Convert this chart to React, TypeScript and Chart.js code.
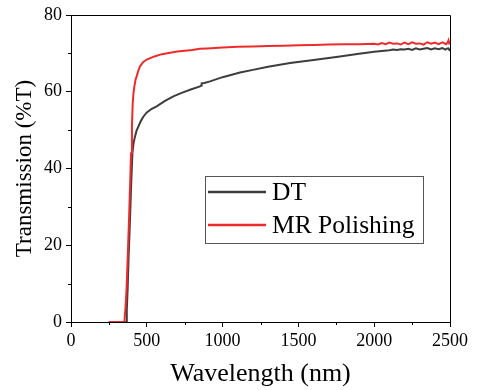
import React, { useEffect, useRef } from "react";
import { Chart, registerables } from "chart.js";

Chart.register(...registerables);

const xTicksMajor = [0, 500, 1000, 1500, 2000, 2500];
const xTicksMinor = [250, 750, 1250, 1750, 2250];
const yTicksMajor = [0, 20, 40, 60, 80];
const yTicksMinor = [10, 30, 50, 70];

const seriesNames = ["DT", "MR Polishing"];

const wavelengthDT = [
  250, 300, 340, 363, 368, 374, 380, 389, 397, 405, 412, 422, 432, 444, 460, 477, 500, 530, 565, 620, 675, 730, 790, 851, 858,
  862, 880, 917, 1000, 1115, 1200, 1300, 1445, 1600, 1774, 1900, 2000, 2050, 2100, 2125, 2150, 2175, 2200, 2225, 2250, 2275,
  2300, 2325, 2350, 2375, 2400, 2425, 2450, 2470, 2478, 2490, 2500,
];
const dtValues = [
  0, 0, 0, 0, 3, 9, 17, 26.5, 36, 44, 46.5, 48.3, 49.8, 50.9, 52.3, 53.5, 54.6, 55.5, 56.2, 57.6, 58.8, 59.7, 60.6, 61.4, 61.6,
  62.2, 62.3, 62.7, 63.8, 65.0, 65.7, 66.5, 67.5, 68.3, 69.2, 69.9, 70.4, 70.6, 70.8, 71.0, 70.9, 71.1, 71.0, 71.2, 70.9, 71.3,
  71.0, 71.2, 71.4, 71.0, 71.3, 71.1, 71.4, 71.0, 71.2, 71.3, 70.6,
];

const wavelengthMR = [
  250, 300, 340, 352, 360, 367, 375, 383, 390, 396, 402, 407, 412, 418, 425, 433, 445, 455, 475, 500, 550, 600, 700, 800, 850,
  900, 1000, 1100, 1200, 1300, 1400, 1500, 1600, 1700, 1800, 1900, 2000, 2025, 2050, 2075, 2100, 2125, 2150, 2175, 2200, 2225,
  2250, 2275, 2300, 2325, 2350, 2375, 2400, 2425, 2450, 2475, 2485, 2490, 2495, 2500,
];
const mrValues = [
  0, 0, 0, 0, 4, 9, 18, 27, 36, 44, 51, 57, 59.5, 61.4, 63, 64, 65.6, 66.6, 67.7, 68.4, 69.2, 69.8, 70.5, 70.9, 71.2, 71.3,
  71.5, 71.7, 71.8, 71.9, 72.0, 72.1, 72.2, 72.3, 72.4, 72.4, 72.5, 72.3, 72.7, 72.4, 72.8, 72.5, 72.6, 72.3, 72.8, 72.4, 72.9,
  72.5, 72.6, 72.3, 72.9, 72.5, 72.8, 72.4, 72.9, 72.4, 72.9, 73.4, 72.6, 72.8,
];

const DT_COLOR = "#3d3d3d";
const MR_COLOR = "#ee2b2b";
const FONT = "'Liberation Serif', 'Times New Roman', serif";

const framePlugin = {
  id: "frameAndMinor",
  afterDraw(chart: any) {
    const { ctx, chartArea, scales } = chart;
    const { left, right, top, bottom } = chartArea;
    ctx.save();
    ctx.strokeStyle = "#000";
    ctx.lineWidth = 1;
    ctx.beginPath();
    ctx.moveTo(left, top + 0.5);
    ctx.lineTo(right + 0.5, top + 0.5);
    ctx.lineTo(right + 0.5, bottom);
    ctx.stroke();
    ctx.beginPath();
    for (const v of xTicksMinor) {
      const px = Math.round(scales.x.getPixelForValue(v)) + 0.5;
      ctx.moveTo(px, bottom);
      ctx.lineTo(px, bottom + 3);
    }
    for (const v of yTicksMinor) {
      const py = Math.round(scales.y.getPixelForValue(v)) + 0.5;
      ctx.moveTo(left, py);
      ctx.lineTo(left - 3, py);
    }
    ctx.stroke();

    // legend
    const bx = left + 134;
    const by = top + 161;
    const bw = 218;
    const bh = 67;
    ctx.fillStyle = "#fff";
    ctx.fillRect(bx, by, bw, bh);
    ctx.strokeStyle = "#555";
    ctx.strokeRect(bx + 0.5, by + 0.5, bw, bh);
    const colors = [DT_COLOR, MR_COLOR];
    ctx.font = `25.5px ${FONT}`;
    ctx.textBaseline = "middle";
    ctx.textAlign = "left";
    seriesNames.forEach((name, i) => {
      const ly = by + 16 + i * 33;
      ctx.strokeStyle = colors[i];
      ctx.lineWidth = 2.5;
      ctx.beginPath();
      ctx.moveTo(bx + 3, ly);
      ctx.lineTo(bx + 61, ly);
      ctx.stroke();
      ctx.fillStyle = "#000";
      ctx.fillText(name, bx + 67, ly + 1);
    });
    ctx.restore();
  },
};

export default function App() {
  const ref = useRef<HTMLCanvasElement | null>(null);

  useEffect(() => {
    if (!ref.current) return;
    const chart = new Chart(ref.current, {
      type: "line",
      data: {
        datasets: [
          {
            label: seriesNames[0],
            data: wavelengthDT.map((x, i) => ({ x, y: dtValues[i] })),
            borderColor: DT_COLOR,
            borderWidth: 2,
            pointRadius: 0,
            tension: 0,
            order: 1,
          },
          {
            label: seriesNames[1],
            data: wavelengthMR.map((x, i) => ({ x, y: mrValues[i] })),
            borderColor: MR_COLOR,
            borderWidth: 2,
            pointRadius: 0,
            tension: 0,
            order: 0,
          },
        ],
      },
      options: {
        animation: false,
        responsive: false,
        maintainAspectRatio: false,
        layout: { padding: { left: 0, right: 28, top: 15, bottom: 0 } },
        plugins: { legend: { display: false }, tooltip: { enabled: false } },
        scales: {
          x: {
            type: "linear",
            min: 0,
            max: 2500,
            afterFit: (s: any) => {
              s.height = 68;
            },
            afterBuildTicks: (s: any) => {
              s.ticks = xTicksMajor.map((v) => ({ value: v }));
            },
            ticks: {
              color: "#000",
              font: { family: FONT, size: 18 },
              padding: 3,
              maxRotation: 0,
              callback: (v: any) => String(v),
            },
            grid: { display: true, drawOnChartArea: false, drawTicks: true, tickLength: 5, tickColor: "#000" },
            border: { display: true, color: "#000", width: 1 },
            title: {
              display: true,
              text: "Wavelength (nm)",
              color: "#000",
              font: { family: FONT, size: 26 },
              padding: { top: 4, bottom: 0 },
            },
          },
          y: {
            type: "linear",
            min: 0,
            max: 80,
            afterFit: (s: any) => {
              s.width = 71;
            },
            afterBuildTicks: (s: any) => {
              s.ticks = yTicksMajor.map((v) => ({ value: v }));
            },
            ticks: {
              color: "#000",
              font: { family: FONT, size: 18 },
              padding: 4,
              callback: (v: any) => String(v),
            },
            grid: { display: true, drawOnChartArea: false, drawTicks: true, tickLength: 5, tickColor: "#000" },
            border: { display: true, color: "#000", width: 1 },
            title: {
              display: true,
              text: "Transmission (%T)",
              color: "#000",
              font: { family: FONT, size: 23 },
              padding: { top: 11, bottom: 0 },
            },
          },
        },
      },
      plugins: [framePlugin],
    });
    return () => chart.destroy();
  }, []);

  return (
    <div style={{ position: "fixed", left: 0, top: 0, width: 478, height: 390, background: "#fff" }}>
      <canvas ref={ref} width={478} height={390} style={{ width: 478, height: 390, display: "block" }} />
    </div>
  );
}
